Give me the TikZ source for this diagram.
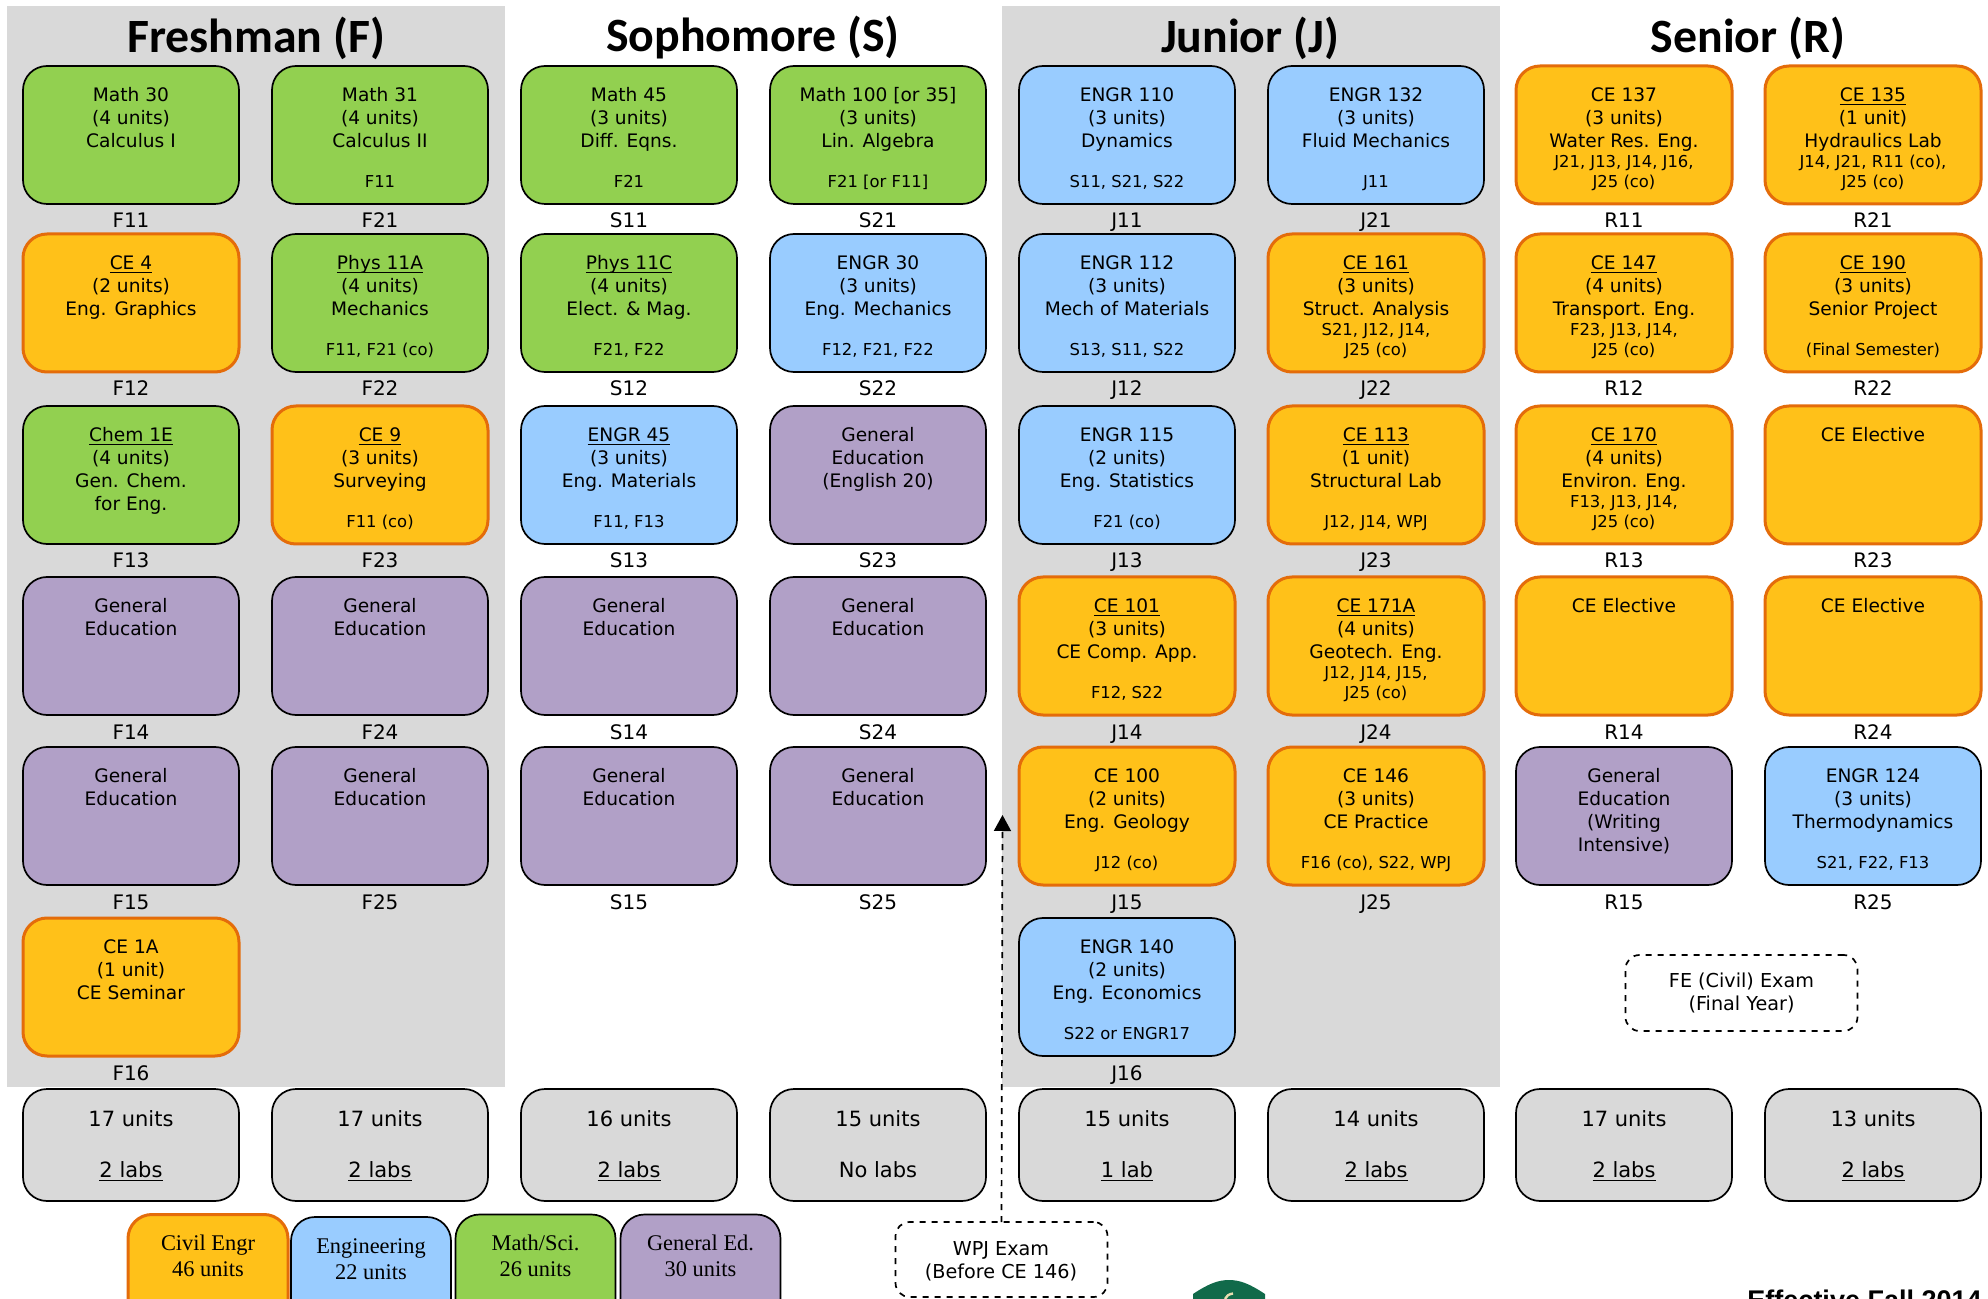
\documentclass[tikz,border=0pt]{standalone}
\usepackage{amsmath}
\usepackage{fontspec}
\setmainfont{DejaVu Sans}
\newfontfamily\headfont{Carlito}
\newfontfamily\legendfont{Liberation Serif}
\newfontfamily\datefont{Liberation Sans}
\usetikzlibrary{arrows.meta}
\definecolor{cecolor}{HTML}{FFC119}
\definecolor{ceedge}{HTML}{E46C0A}
\definecolor{engcolor}{HTML}{99CCFF}
\definecolor{mathcolor}{HTML}{92D050}
\definecolor{gencolor}{HTML}{B1A0C7}
\definecolor{panelcolor}{HTML}{D9D9D9}
\definecolor{logocolor}{HTML}{116A4A}
\definecolor{logomark}{HTML}{E8DDB0}
\newcommand{\ucode}[1]{\underline{\smash[b]{#1}}}
\tikzset{
    coursebox/.style={rectangle,rounded corners=12pt,minimum width=108pt,minimum height=69pt,inner sep=0pt,outer sep=0pt,anchor=north},
    cebox/.style={coursebox,draw=ceedge,line width=1.5pt,fill=cecolor},
    engbox/.style={coursebox,draw=black,line width=.85pt,fill=engcolor},
    mathbox/.style={coursebox,draw=black,line width=.85pt,fill=mathcolor},
    genbox/.style={coursebox,draw=black,line width=.85pt,fill=gencolor},
    totalbox/.style={coursebox,draw=black,line width=.85pt,fill=panelcolor,minimum height=56pt},
    coursetext/.style={anchor=north,align=center,inner sep=0pt,font=\fontsize{9.3}{11.5}\selectfont},
    pretext/.style={anchor=south,align=center,inner sep=0pt,font=\fontsize{8.2}{10}\selectfont},
    idtext/.style={anchor=base,inner sep=0pt,font=\fontsize{10}{12}\selectfont},
    totaltext/.style={anchor=base,inner sep=0pt,font=\fontsize{10.5}{12}\selectfont},
    headtext/.style={inner sep=0pt,font=\fontsize{23.9}{26}\headfont\bfseries},
    legendbox/.style={minimum width=80pt,minimum height=70pt},
    legendtext/.style={anchor=center,align=center,inner sep=0pt,font=\fontsize{11.2}{13}\legendfont},
    examtext/.style={align=center,inner sep=0pt,font=\fontsize{9.6}{11.7}\selectfont},
    exambox/.style={rectangle,rounded corners=7pt,draw=black,dashed,line width=.85pt,fill=white,inner sep=0pt,outer sep=0pt},
}
\begin{document}
\begin{tikzpicture}[x=.5pt,y=-.5pt]
    \useasboundingbox (0,0) rectangle (1988,1299);
    \begin{scope}
    \clip (0,0) rectangle (1988,1299);

    % grey year panels
    \fill [panelcolor] (7,6) rectangle (505,1087);
    \fill [panelcolor] (1002,6) rectangle (1500,1087);

    \foreach \x/\hd/\txt in {256/headF/Freshman (F), 753/headS/Sophomore (S), 1250/headJ/Junior (J), 1748/headR/Senior (R)}
    {
        \node [headtext] (\hd) at (\x,38) {\txt};
    }

    % one line per course
    \foreach \x/\y/\id/\sty/\txt/\pre in {
        131/66/F11/mathbox/{Math 30\\(4 units)\\Calculus I}/{},
        131/234/F12/cebox/{\ucode{CE 4}\\(2 units)\\Eng. Graphics}/{},
        131/406/F13/mathbox/{\ucode{Chem 1E}\\(4 units)\\Gen. Chem.\\for Eng.}/{},
        131/577/F14/genbox/{General\\Education}/{},
        131/747/F15/genbox/{General\\Education}/{},
        131/918/F16/cebox/{CE 1A\\(1 unit)\\CE Seminar}/{},
        380/66/F21/mathbox/{Math 31\\(4 units)\\Calculus II}/{F11},
        380/234/F22/mathbox/{\ucode{Phys 11A}\\(4 units)\\Mechanics}/{F11, F21 (co)},
        380/406/F23/cebox/{\ucode{CE 9}\\(3 units)\\Surveying}/{F11 (co)},
        380/577/F24/genbox/{General\\Education}/{},
        380/747/F25/genbox/{General\\Education}/{},
        629/66/S11/mathbox/{Math 45\\(3 units)\\Diff. Eqns.}/{F21},
        629/234/S12/mathbox/{\ucode{Phys 11C}\\(4 units)\\Elect. \& Mag.}/{F21, F22},
        629/406/S13/engbox/{\ucode{ENGR 45}\\(3 units)\\Eng. Materials}/{F11, F13},
        629/577/S14/genbox/{General\\Education}/{},
        629/747/S15/genbox/{General\\Education}/{},
        878/66/S21/mathbox/{Math 100 [or 35]\\(3 units)\\Lin. Algebra}/{F21 [or F11]},
        878/234/S22/engbox/{ENGR 30\\(3 units)\\Eng. Mechanics}/{F12, F21, F22},
        878/406/S23/genbox/{General\\Education\\(English 20)}/{},
        878/577/S24/genbox/{General\\Education}/{},
        878/747/S25/genbox/{General\\Education}/{},
        1127/66/J11/engbox/{ENGR 110\\(3 units)\\Dynamics}/{S11, S21, S22},
        1127/234/J12/engbox/{ENGR 112\\(3 units)\\Mech of Materials}/{S13, S11, S22},
        1127/406/J13/engbox/{ENGR 115\\(2 units)\\Eng. Statistics}/{F21 (co)},
        1127/577/J14/cebox/{\ucode{CE 101}\\(3 units)\\CE Comp. App.}/{F12, S22},
        1127/747/J15/cebox/{CE 100\\(2 units)\\Eng. Geology}/{J12 (co)},
        1127/918/J16/engbox/{ENGR 140\\(2 units)\\Eng. Economics}/{S22 or ENGR17},
        1376/66/J21/engbox/{ENGR 132\\(3 units)\\Fluid Mechanics}/{J11},
        1376/234/J22/cebox/{\ucode{CE 161}\\(3 units)\\Struct. Analysis}/{S21, J12, J14,\\J25 (co)},
        1376/406/J23/cebox/{\ucode{CE 113}\\(1 unit)\\Structural Lab}/{J12, J14, WPJ},
        1376/577/J24/cebox/{\ucode{CE 171A}\\(4 units)\\Geotech. Eng.}/{J12, J14, J15,\\J25 (co)},
        1376/747/J25/cebox/{CE 146\\(3 units)\\CE Practice}/{F16 (co), S22, WPJ},
        1624/66/R11/cebox/{CE 137\\(3 units)\\Water Res. Eng.}/{J21, J13, J14, J16,\\J25 (co)},
        1624/234/R12/cebox/{\ucode{CE 147}\\(4 units)\\Transport. Eng.}/{F23, J13, J14,\\J25 (co)},
        1624/406/R13/cebox/{\ucode{CE 170}\\(4 units)\\Environ. Eng.}/{F13, J13, J14,\\J25 (co)},
        1624/577/R14/cebox/{CE Elective}/{},
        1624/747/R15/genbox/{General\\Education\\(Writing\\Intensive)}/{},
        1873/66/R21/cebox/{\ucode{CE 135}\\(1 unit)\\Hydraulics Lab}/{J14, J21, R11 (co),\\J25 (co)},
        1873/234/R22/cebox/{\ucode{CE 190}\\(3 units)\\Senior Project}/{(Final Semester)},
        1873/406/R23/cebox/{CE Elective}/{},
        1873/577/R24/cebox/{CE Elective}/{},
        1873/747/R25/engbox/{ENGR 124\\(3 units)\\Thermodynamics}/{S21, F22, F13}}
    {
        \node [\sty] (\id) at (\x,\y) {};
        \node [coursetext] (\id txt) at (\x,\y+19) {\strut\txt};
        \ifx\pre\empty\else
            \node [pretext] (\id pre) at (\x,\y+128) {\pre\strut};
        \fi
        \node [idtext] (\id lbl) at (\x,\y+162) {\id};
    }

    % semester totals
    \foreach \x/\id/\a/\b in {
        131/T1/17 units/\ucode{2 labs}, 380/T2/17 units/\ucode{2 labs},
        629/T3/16 units/\ucode{2 labs}, 878/T4/15 units/No labs,
        1127/T5/15 units/\ucode{1 lab}, 1376/T6/14 units/\ucode{2 labs},
        1624/T7/17 units/\ucode{2 labs}, 1873/T8/13 units/\ucode{2 labs}}
    {
        \node [totalbox] (\id) at (\x,1089) {};
        \node [totaltext] (\id a) at (\x,1126) {\a};
        \node [totaltext] (\id b) at (\x,1177) {\b};
    }

    % legend, runs off the bottom edge
    \node [cebox,legendbox] (legCE) at (208,1214.5) {};
    \node [engbox,legendbox] (legEng) at (371,1217) {};
    \node [mathbox,legendbox] (legMath) at (535.5,1214.5) {};
    \node [genbox,legendbox] (legGen) at (700.5,1214.5) {};
    \node [legendtext] (legCEt) at (208,1256) {Civil Engr\\46 units};
    \node [legendtext] (legEngt) at (371,1259) {Engineering\\22 units};
    \node [legendtext] (legMatht) at (535.5,1256) {Math/Sci.\\26 units};
    \node [legendtext] (legGent) at (700.5,1256) {General Ed.\\30 units};

    % exams
    \node [exambox,minimum width=106pt,minimum height=37.5pt] (WPJ) at (1001.5,1259.5) {};
    \node [examtext] (WPJt) at (1001,1261) {WPJ Exam\\(Before CE 146)};
    \node [exambox,minimum width=116pt,minimum height=38pt] (FE) at (1741.5,993) {};
    \node [examtext] (FEt) at (1741.5,993) {FE (Civil) Exam\\(Final Year)};
    \coordinate (wpjend) at (1002.5,815);
    \draw [dashed,line width=.85pt,-{Triangle[length=8pt,width=8.5pt]}] (WPJ.north) -- (wpjend);

    % logo and date, cut by the bottom edge
    \fill [logocolor] (1193,1299) -- (1193,1294) .. controls (1208,1284) and (1218,1280) .. (1229,1280) .. controls (1240,1280) and (1250,1284) .. (1265,1294) -- (1265,1299) -- cycle;
    \draw [logomark,line width=1.2pt] (1225,1299) .. controls (1226,1296) and (1229,1294) .. (1233,1293.5);
    \node [anchor=north east,inner sep=0pt,font=\fontsize{13.5}{15}\datefont\bfseries] (effdate) at (1982,1290) {Effective Fall 2014};
    \end{scope}
\end{tikzpicture}
\end{document}
